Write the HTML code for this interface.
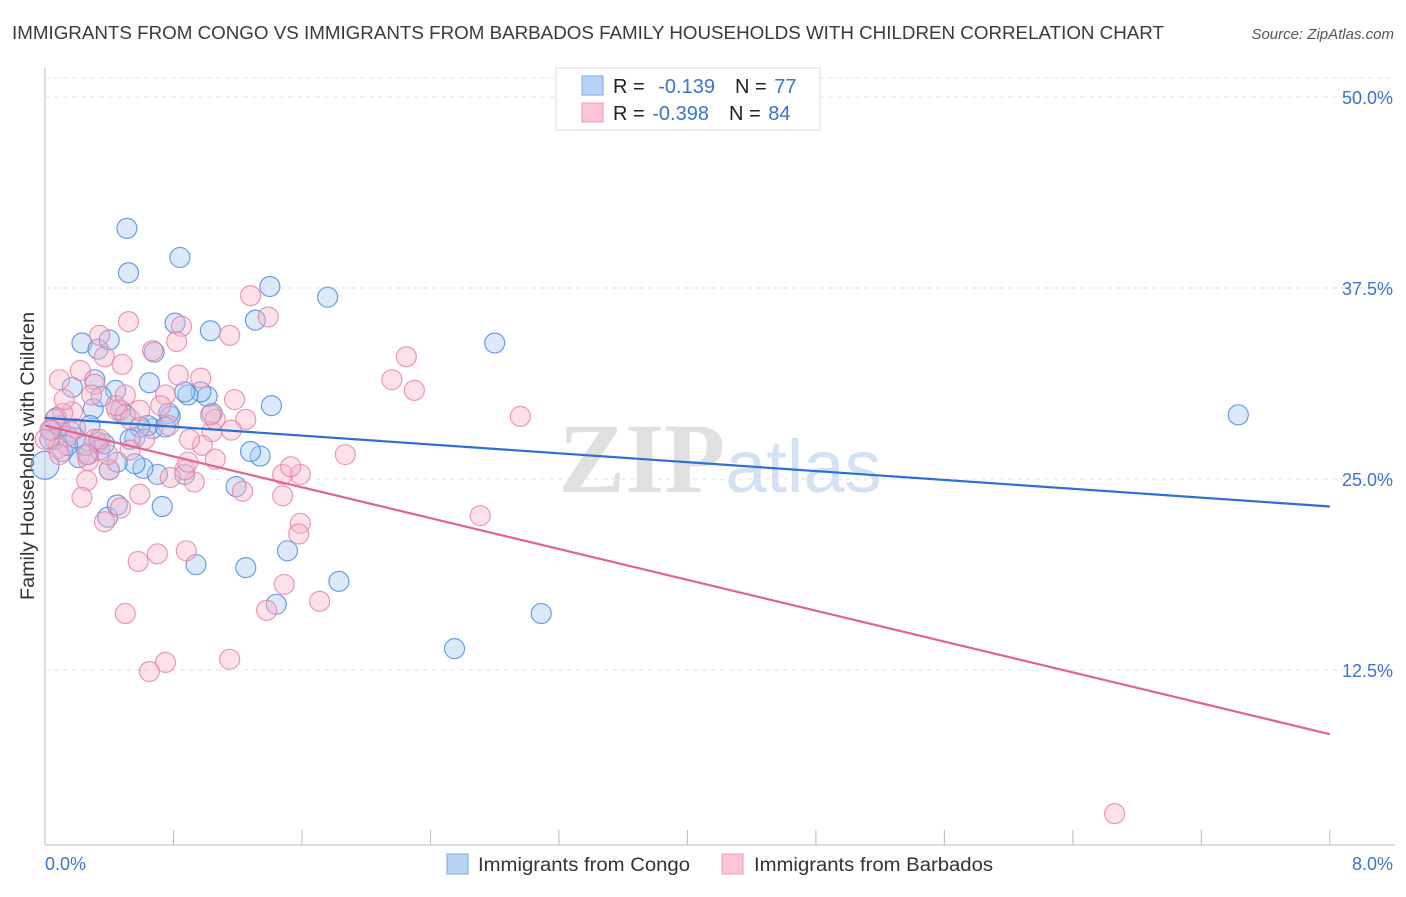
<!DOCTYPE html>
<html><head><meta charset="utf-8"><style>
body{margin:0;background:#fff;font-family:"Liberation Sans",sans-serif;}
svg text{font-family:"Liberation Sans",sans-serif;}
</style></head><body>
<svg id="chart" width="1406" height="892" xmlns="http://www.w3.org/2000/svg">
<text x="12" y="39" font-size="18" fill="#3a3a3a" textLength="1152" lengthAdjust="spacingAndGlyphs">IMMIGRANTS FROM CONGO VS IMMIGRANTS FROM BARBADOS FAMILY HOUSEHOLDS WITH CHILDREN CORRELATION CHART</text>
<text x="1394" y="39" font-size="15" fill="#555" font-style="italic" text-anchor="end">Source: ZipAtlas.com</text>
<text transform="translate(34,456) rotate(-90)" font-size="19" fill="#333" text-anchor="middle" textLength="288" lengthAdjust="spacingAndGlyphs">Family Households with Children</text>
<text x="720" y="492" font-size="100" text-anchor="middle"><tspan fill="#e0e0e0" font-weight="bold" font-family="Liberation Serif">ZIP</tspan><tspan fill="#d2e2f4" font-size="74">atlas</tspan></text>
<g id="grid"></g><g id="marks"></g><g id="lines"></g>
<g>
<rect x="556" y="68" width="264" height="62" fill="#fff" stroke="#ddd"/>
<rect x="582" y="76" width="21" height="19" fill="#b8d3f6" stroke="#7aa7e6"/>
<rect x="582" y="103" width="21" height="19" fill="#fac6d6" stroke="#ef9ab6"/>
<text x="613" y="93" font-size="20" fill="#222">R = <tspan fill="#3a73d0" dx="8">-0.139</tspan><tspan dx="20" fill="#222">N = </tspan><tspan fill="#3a73d0" dx="2">77</tspan></text>
<text x="613" y="120" font-size="20" fill="#222">R = <tspan fill="#3a73d0" dx="2">-0.398</tspan><tspan dx="20" fill="#222">N = </tspan><tspan fill="#3a73d0" dx="2">84</tspan></text>
</g>
<g>
<rect x="447" y="854" width="21" height="20" fill="#b8d3f6" stroke="#7aa7e6"/>
<text x="478" y="871" font-size="19" fill="#333" textLength="212" lengthAdjust="spacingAndGlyphs">Immigrants from Congo</text>
<rect x="722" y="854" width="21" height="20" fill="#fac6d6" stroke="#ef9ab6"/>
<text x="754" y="871" font-size="19" fill="#333" textLength="239" lengthAdjust="spacingAndGlyphs">Immigrants from Barbados</text>
</g>
</svg>
<script>
const yTicks=[12.5,25,37.5,50];
const yTickLabels=["12.5%","25.0%","37.5%","50.0%"];
const xTickLabels=["0.0%","8.0%"];
const congoX=[0.51,0.84,0.52,1.40,1.76,2.80,7.43,2.55,3.09,1.83,1.44,1.51,1.25,0.94,0.73,0.39,0.45,0.70,0.87,1.19,1.34,1.28,0.61,0.56,0.40,0.21,0.27,0.11,0.06,0.16,0.33,0.56,0.67,0.64,0.78,0.77,1.04,1.41,1.01,0.97,0.89,0.87,0.47,0.30,0.17,0.31,0.65,0.44,0.35,0.23,0.33,0.40,0.68,0.81,1.03,1.31,0.00,0.03,0.09,0.07,0.04,0.19,0.25,0.34,0.50,0.59,0.14,0.45,0.37,0.28,0.53,0.75];
const congoY=[41.4,39.5,38.5,37.6,36.9,33.9,29.2,13.9,16.2,18.3,16.8,20.3,19.2,19.4,23.2,22.5,23.3,25.3,25.3,24.5,26.5,26.8,25.7,26.0,25.6,26.4,26.6,26.8,27.6,28.1,27.4,27.7,28.3,28.5,29.1,29.3,29.3,29.8,30.4,30.7,30.5,30.7,29.5,29.6,31.0,31.5,31.3,30.8,30.4,33.9,33.5,34.1,33.3,35.2,34.7,35.4,25.9,27.6,28.5,29.0,28.2,27.7,27.2,26.9,29.2,28.4,27.2,26.1,27.3,28.5,27.6,28.4];
const barbX=[6.66,2.71,2.25,2.16,2.30,2.96,1.87,1.28,1.39,1.15,0.52,0.34,0.37,0.48,0.67,0.85,0.82,0.97,1.18,1.25,1.04,0.98,1.06,0.90,0.93,1.23,1.48,1.59,1.53,1.48,1.59,1.58,1.49,1.38,1.71,1.15,0.88,0.75,0.65,0.70,0.58,0.50,0.47,0.37,0.59,0.26,0.23,0.40,0.27,0.09,0.22,0.31,0.17,0.11,0.19,0.14,0.06,0.03,0.08,0.31,0.39,0.45,0.53,0.75,0.72,0.77,0.62,0.87,0.78,1.06,1.16,0.53,0.34,0.26,0.09,1.03,0.89,0.59,0.29,0.12,0.44,0.50,0.83,0.00];
const barbY=[3.1,22.6,33.0,31.5,30.8,29.1,26.6,37.0,35.6,34.4,35.3,34.4,33.0,32.5,33.4,35.0,34.0,31.6,30.2,28.9,28.1,27.2,26.3,27.6,24.8,24.2,25.3,25.3,25.8,23.9,22.1,21.4,18.1,16.4,17.0,13.2,20.3,13.0,12.4,20.1,19.6,16.2,23.1,22.2,24.0,24.9,23.8,25.6,26.2,31.5,32.1,31.2,29.4,29.3,28.3,27.8,28.9,28.2,27.0,27.6,26.6,29.5,28.9,30.5,29.8,28.5,27.6,25.6,25.1,28.9,28.2,26.9,27.6,26.6,26.6,29.2,26.1,29.5,30.5,30.2,29.8,30.5,31.8,27.6];
const congoTrend=[29.0,23.2];
const barbTrend=[28.5,8.3];
const NS="http://www.w3.org/2000/svg";
const xs=v=>45+v*160.6;
const ys=v=>861-v*15.28;
function mk(t,a){const e=document.createElementNS(NS,t);for(const k in a)e.setAttribute(k,a[k]);return e;}
const grid=document.getElementById('grid'),marks=document.getElementById('marks'),lines=document.getElementById('lines');
const ax=mk('line',{x1:45,y1:68,x2:45,y2:845,stroke:'#bbb'});


grid.appendChild(ax);
const bx=mk('line',{x1:45,y1:845,x2:1395,y2:845,stroke:'#bbb'});


grid.appendChild(bx);
const tg=mk('line',{x1:45,y1:78,x2:1395,y2:78,stroke:'#e4e4e4','stroke-dasharray':'5,4'});


grid.appendChild(tg);
yTicks.forEach((t,i)=>{
 const l=mk('line',{x1:45,y1:ys(t),x2:1395,y2:ys(t),stroke:'#e2e2e2','stroke-dasharray':'5,4'});
 
 
 grid.appendChild(l);
 const tx=mk('text',{x:1393,y:ys(t)+7,'font-size':18,fill:'#3a73d0','text-anchor':'end'});
 tx.textContent=yTickLabels[i];
 
 
 grid.appendChild(tx);
});
for(let i=0;i<=10;i++){
 const l=mk('line',{x1:xs(i*0.8),y1:830,x2:xs(i*0.8),y2:845,stroke:'#bbb'});
 
 
 grid.appendChild(l);
}
[[0,'start',45],[1,'end',1393]].forEach(([i,a,x])=>{
 const tx=mk('text',{x:x,y:870,'font-size':18,fill:'#3a73d0','text-anchor':a});
 tx.textContent=xTickLabels[i];
 
 
 grid.appendChild(tx);
});
function pts(X,Y,fill,stroke,name){
 X.forEach((x,i)=>{
  const c=mk('circle',{cx:xs(x),cy:ys(Y[i]),r:(x===0&&name==='congo-point')?14:10,fill:fill,'fill-opacity':0.4,stroke:stroke,'stroke-width':1.2,'stroke-opacity':0.8});
  
  
  marks.appendChild(c);
 });
}
pts(congoX,congoY,'#a6c8f2','#4a86dc','congo-point');
pts(barbX,barbY,'#f7b3c8','#e87fa2','barbados-point');
function trend(T,color,name){
 const l=mk('line',{x1:xs(0),y1:ys(T[0]),x2:xs(8),y2:ys(T[1]),stroke:color,'stroke-width':2.2});
 
 
 lines.appendChild(l);
}
trend(congoTrend,'#2e6fd4','congo-trend-line');
trend(barbTrend,'#e4628e','barbados-trend-line');
</script>
</body></html>
